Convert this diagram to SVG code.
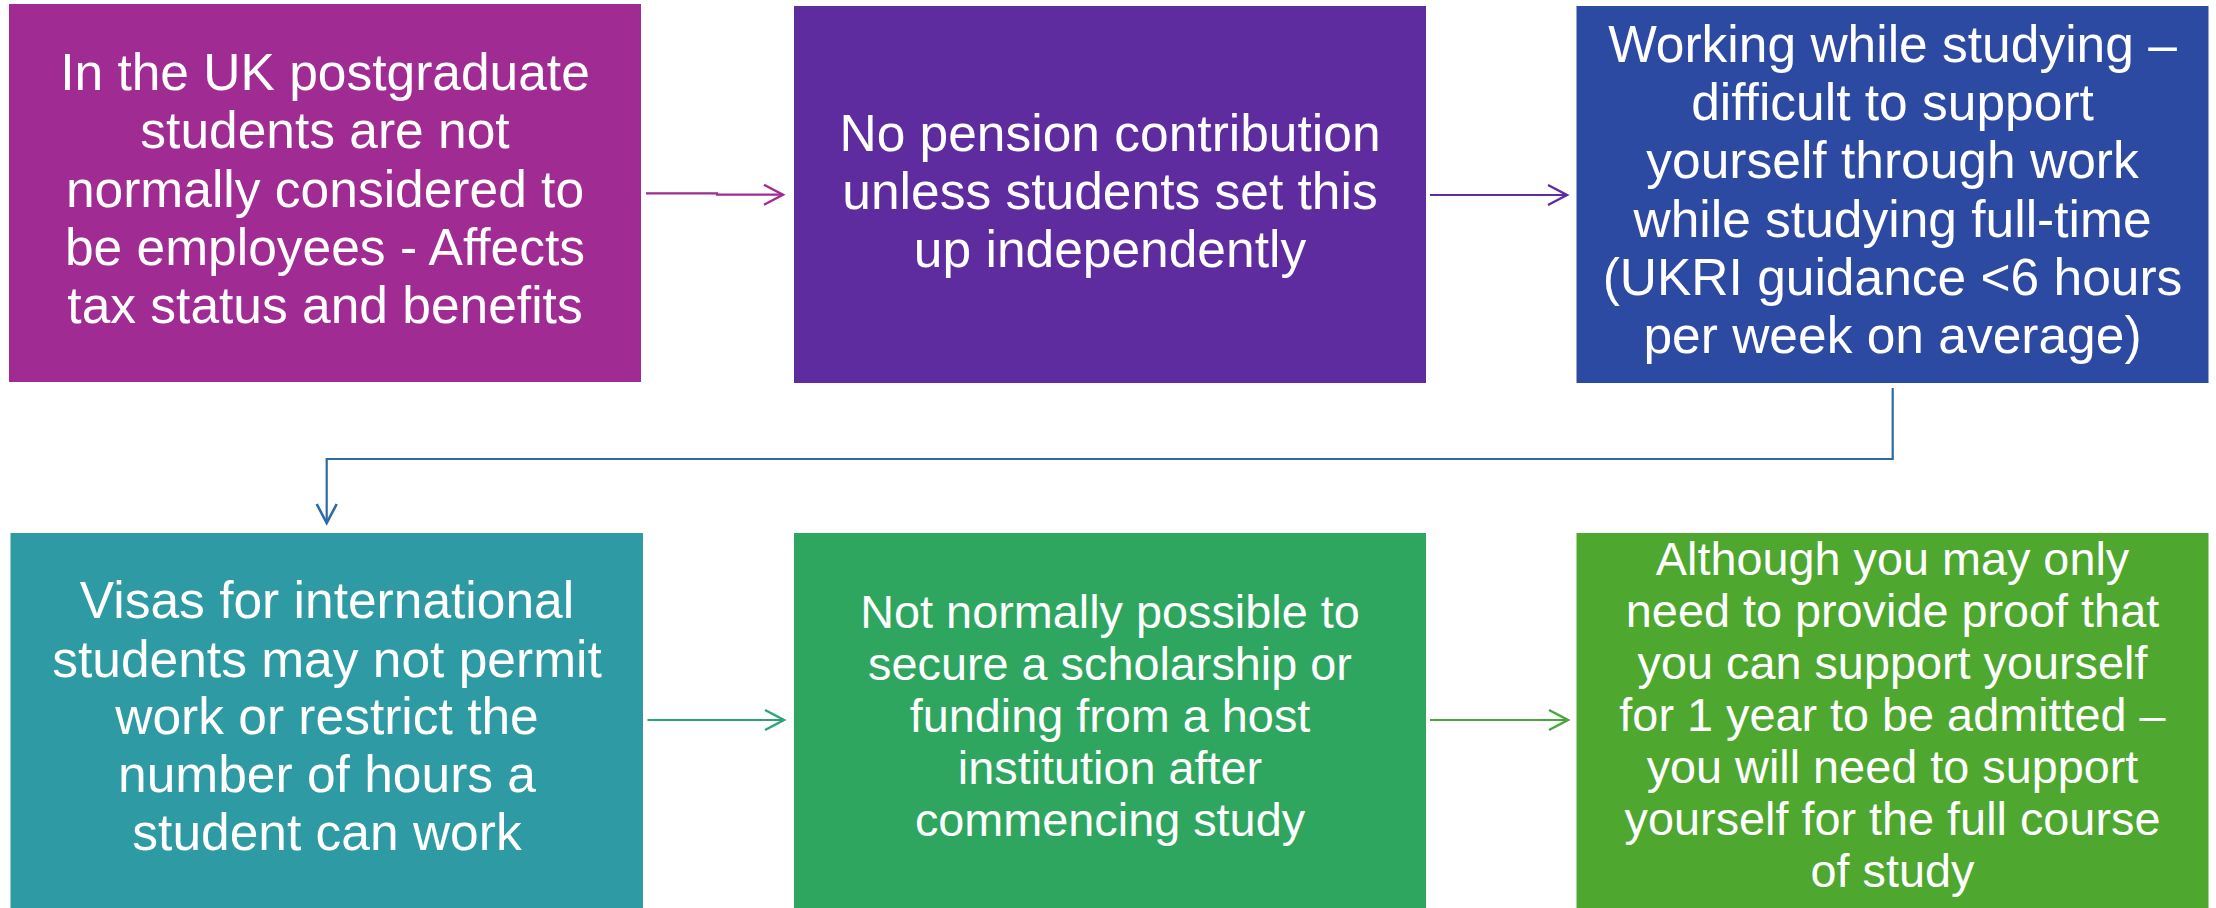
<svg xmlns="http://www.w3.org/2000/svg" width="2216" height="908" viewBox="0 0 2216 908">
<style>
  .box { stroke: none; }
  .t1 { font-family: "Liberation Sans", Arial, sans-serif; font-size: 51.5px; fill: #ffffff; text-anchor: middle; }
  .t2 { font-family: "Liberation Sans", Arial, sans-serif; font-size: 46.8px; fill: #ffffff; text-anchor: middle; }
  .conn { fill: none; stroke-width: 2.2; }
</style>
<defs>
  <marker id="ah1" markerUnits="userSpaceOnUse" markerWidth="24" markerHeight="24" refX="19" refY="10" orient="auto" viewBox="-2 -2 24 24">
    <path d="M0,0 L19,10 L0,20" fill="none" stroke="#A02B93" stroke-width="2.4"/>
  </marker>
  <marker id="ah2" markerUnits="userSpaceOnUse" markerWidth="24" markerHeight="24" refX="19" refY="10" orient="auto" viewBox="-2 -2 24 24">
    <path d="M0,0 L19,10 L0,20" fill="none" stroke="#5F2C9F" stroke-width="2.4"/>
  </marker>
  <marker id="ah3" markerUnits="userSpaceOnUse" markerWidth="24" markerHeight="24" refX="19" refY="10" orient="auto" viewBox="-2 -2 24 24">
    <path d="M0,0 L19,10 L0,20" fill="none" stroke="#2E6AA6" stroke-width="2.6"/>
  </marker>
  <marker id="ah4" markerUnits="userSpaceOnUse" markerWidth="24" markerHeight="24" refX="19" refY="10" orient="auto" viewBox="-2 -2 24 24">
    <path d="M0,0 L19,10 L0,20" fill="none" stroke="#2EA276" stroke-width="2.4"/>
  </marker>
  <marker id="ah5" markerUnits="userSpaceOnUse" markerWidth="24" markerHeight="24" refX="19" refY="10" orient="auto" viewBox="-2 -2 24 24">
    <path d="M0,0 L19,10 L0,20" fill="none" stroke="#45A739" stroke-width="2.4"/>
  </marker>
</defs>
<rect width="2216" height="908" fill="#ffffff"/>

<g id="connectors">
  <path class="conn" d="M646,193.3 L717,193.3 L717,194.7 L783,194.7" stroke="#A02B93" marker-end="url(#ah1)"/>
  <path class="conn" d="M1430,195 L1567,195" stroke="#5F2C9F" marker-end="url(#ah2)"/>
  <path class="conn" d="M1892.7,388 L1892.7,459 L326.7,459 L326.7,523" stroke="#2E6AA6" stroke-width="2.6" marker-end="url(#ah3)"/>
  <path class="conn" d="M647.5,720 L784,720" stroke="#2EA276" marker-end="url(#ah4)"/>
  <path class="conn" d="M1430,720 L1568,720" stroke="#45A739" marker-end="url(#ah5)"/>
</g>

<g id="node1">
  <rect class="box" x="9" y="4" width="632" height="378" fill="#A02B93"/>
  <text class="t1" x="325" y="90">In the UK postgraduate</text>
  <text class="t1" x="325" y="148.3">students are not</text>
  <text class="t1" x="325" y="206.6">normally considered to</text>
  <text class="t1" x="325" y="264.9">be employees - Affects</text>
  <text class="t1" x="325" y="323.2">tax status and benefits</text>
</g>

<g id="node2">
  <rect class="box" x="794" y="6" width="632" height="377" fill="#5F2C9F"/>
  <text class="t1" x="1110" y="150.7">No pension contribution</text>
  <text class="t1" x="1110" y="209">unless students set this</text>
  <text class="t1" x="1110" y="267.3">up independently</text>
</g>

<g id="node3">
  <rect class="box" x="1576.5" y="6" width="632" height="377" fill="#2D4AA3"/>
  <text class="t1" x="1892.5" y="61.7">Working while studying –</text>
  <text class="t1" x="1892.5" y="120">difficult to support</text>
  <text class="t1" x="1892.5" y="178.3">yourself through work</text>
  <text class="t1" x="1892.5" y="236.6">while studying full-time</text>
  <text class="t1" x="1892.5" y="294.9">(UKRI guidance &lt;6 hours</text>
  <text class="t1" x="1892.5" y="353.2">per week on average)</text>
</g>

<g id="node4">
  <rect class="box" x="10.5" y="533" width="632.5" height="380" fill="#2E9AA3"/>
  <text class="t1" x="327" y="618.3">Visas for international</text>
  <text class="t1" x="327" y="676.6">students may not permit</text>
  <text class="t1" x="327" y="734.2">work or restrict the</text>
  <text class="t1" x="327" y="792">number of hours a</text>
  <text class="t1" x="327" y="850.3">student can work</text>
</g>

<g id="node5">
  <rect class="box" x="794" y="533" width="632" height="380" fill="#2EA660"/>
  <text class="t2" x="1110" y="628.3">Not normally possible to</text>
  <text class="t2" x="1110" y="680.3">secure a scholarship or</text>
  <text class="t2" x="1110" y="732.3">funding from a host</text>
  <text class="t2" x="1110" y="784.3">institution after</text>
  <text class="t2" x="1110" y="836.3">commencing study</text>
</g>

<g id="node6">
  <rect class="box" x="1576.5" y="533" width="632" height="380" fill="#4EA72E"/>
  <text class="t2" x="1892.5" y="575">Although you may only</text>
  <text class="t2" x="1892.5" y="627">need to provide proof that</text>
  <text class="t2" x="1892.5" y="679">you can support yourself</text>
  <text class="t2" x="1892.5" y="731">for 1 year to be admitted –</text>
  <text class="t2" x="1892.5" y="783">you will need to support</text>
  <text class="t2" x="1892.5" y="835">yourself for the full course</text>
  <text class="t2" x="1892.5" y="887">of study</text>
</g>
</svg>
